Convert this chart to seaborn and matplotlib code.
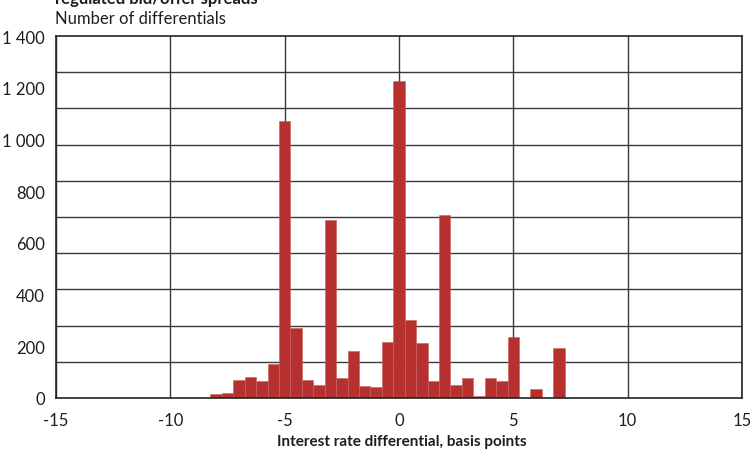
import pandas as pd
import matplotlib
matplotlib.use("Agg")
import matplotlib.pyplot as plt
from matplotlib.ticker import MultipleLocator, FixedLocator
import seaborn as sns

# -----------------------------
# Data
# -----------------------------
bin_centers = [-8.0, -7.5, -7.0, -6.5, -6.0, -5.5, -5.0, -4.5, -4.0, -3.5,
               -3.0, -2.5, -2.0, -1.5, -1.0, -0.5, 0.0, 0.5, 1.0, 1.5,
               2.0, 2.5, 3.0, 3.5, 4.0, 4.5, 5.0, 5.5, 6.0, 6.5, 7.0]
counts = [15, 19, 71, 81, 64, 133, 1070, 271, 71, 49,
          690, 77, 181, 45, 41, 215, 1227, 303, 211, 67,
          707, 51, 79, 7, 79, 67, 237, 0, 36, 0, 194]
bin_width = 0.5

x_ticks = [-15, -10, -5, 0, 5, 10, 15]
y_ticks = [0, 200, 400, 600, 800, 1000, 1200, 1400]
y_tick_labels = ["0", "200", "400", "600", "800", "1 000", "1 200", "1 400"]

title = "regulated bid/offer spreads"
y_title = "Number of differentials"
x_title = "Interest rate differential, basis points"

# -----------------------------
# Style
# -----------------------------
sns.set_theme(style="white")
plt.rcParams["font.family"] = ["Lato", "DejaVu Sans"]
plt.rcParams["axes.unicode_minus"] = False

BAR = "#B5302E"
GRID = "#3a3a3a"
TEXT = "#1e1e1e"

df = pd.DataFrame({"diff": bin_centers, "n": counts})

fig = plt.figure(figsize=(7.53, 4.52), dpi=100)
ax = fig.add_axes([56 / 753, 53 / 452, 686 / 753, 362 / 452])

sns.histplot(data=df, x="diff", weights="n", binwidth=bin_width,
             binrange=(bin_centers[0] - bin_width / 2,
                       bin_centers[-1] + bin_width / 2),
             ax=ax, color=BAR, alpha=1, edgecolor="#c9605c", linewidth=0.4)

ax.set_xlim(-15, 15)
ax.set_ylim(0, 1400)

ax.xaxis.set_major_locator(FixedLocator(x_ticks))
ax.yaxis.set_major_locator(FixedLocator(y_ticks))
ax.set_yticklabels(y_tick_labels)
ax.yaxis.set_minor_locator(MultipleLocator(140))

ax.grid(False)
ax.grid(axis="x", which="major", color=GRID, linewidth=1.0)
ax.grid(axis="y", which="minor", color=GRID, linewidth=1.0)
ax.set_axisbelow(True)

ax.tick_params(axis="both", which="both", length=0, labelsize=12,
               colors=TEXT)
ax.tick_params(axis="x", pad=10)
ax.tick_params(axis="y", pad=8)

for side in ["left", "right", "top", "bottom"]:
    ax.spines[side].set_visible(True)
    ax.spines[side].set_color("#222222")
    ax.spines[side].set_linewidth(1.2)

ax.set_ylabel("")
ax.set_xlabel("")

fig.text(402 / 753, 1 - 442 / 452, x_title, fontsize=11, fontweight="bold",
         color=TEXT, ha="center", va="center")
fig.text(55 / 753, 1 - 24 / 452, y_title, fontsize=12, color=TEXT,
         ha="left", va="baseline")
fig.text(55 / 753, 1 - 4 / 452, title, fontsize=12, fontweight="bold",
         color=TEXT, ha="left", va="baseline")

fig.savefig("out.png", dpi=100)
